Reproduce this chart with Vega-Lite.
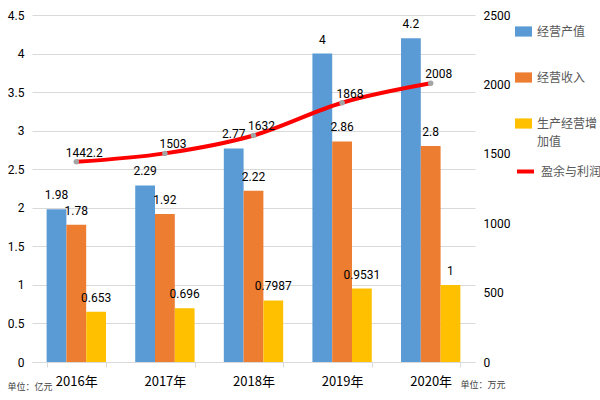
{
  "$schema": "https://vega.github.io/schema/vega-lite/v6.json",
  "width": 443,
  "height": 347,
  "autosize": {"type": "none"},
  "padding": {"left": 32, "top": 15, "right": 125, "bottom": 38},
  "background": "white",
  "config": {
    "view": {"stroke": null},
    "font": "Noto Sans CJK SC",
    "axis": {"labelFont": "Roboto", "labelColor": "#000000", "labelFontSize": 12, "ticks": false, "domain": false, "titleFont": "Noto Sans CJK SC", "titleFontSize": 9, "titleFontWeight": "normal", "titleColor": "#404040"}
  },
  "datasets": {
    "bars": [
      {"year": "2016年", "series": "经营产值", "value": 1.98},
      {"year": "2016年", "series": "经营收入", "value": 1.78},
      {"year": "2016年", "series": "生产经营增加值", "value": 0.653},
      {"year": "2017年", "series": "经营产值", "value": 2.29},
      {"year": "2017年", "series": "经营收入", "value": 1.92},
      {"year": "2017年", "series": "生产经营增加值", "value": 0.696},
      {"year": "2018年", "series": "经营产值", "value": 2.77},
      {"year": "2018年", "series": "经营收入", "value": 2.22},
      {"year": "2018年", "series": "生产经营增加值", "value": 0.7987},
      {"year": "2019年", "series": "经营产值", "value": 4},
      {"year": "2019年", "series": "经营收入", "value": 2.86},
      {"year": "2019年", "series": "生产经营增加值", "value": 0.9531},
      {"year": "2020年", "series": "经营产值", "value": 4.2},
      {"year": "2020年", "series": "经营收入", "value": 2.8},
      {"year": "2020年", "series": "生产经营增加值", "value": 1}
    ],
    "profit": [
      {"year": "2016年", "name": "盈余与利润", "value": 1442.2},
      {"year": "2017年", "name": "盈余与利润", "value": 1503},
      {"year": "2018年", "name": "盈余与利润", "value": 1632},
      {"year": "2019年", "name": "盈余与利润", "value": 1868},
      {"year": "2020年", "name": "盈余与利润", "value": 2008}
    ]
  },
  "encoding": {
    "x": {
      "field": "year", "type": "nominal", "sort": null,
      "scale": {"paddingInner": 0.33, "paddingOuter": 0.165},
      "axis": {
        "title": null, "labelAngle": 0, "labelFont": "Noto Sans CJK SC", "labelFontSize": 13,
        "labelPadding": 8, "domain": true, "domainColor": "#D9D9D9", "ticks": true,
        "tickColor": "#D9D9D9", "tickSize": 5, "tickBand": "extent", "grid": false
      }
    }
  },
  "layer": [
    {
      "data": {"name": "bars"},
      "encoding": {
        "xOffset": {"field": "series", "type": "nominal", "sort": ["经营产值", "经营收入", "生产经营增加值"], "scale": {"paddingInner": 0, "paddingOuter": 0}},
        "y": {
          "field": "value", "type": "quantitative",
          "scale": {"domain": [0, 4.5]},
          "axis": {
            "values": [0, 0.5, 1, 1.5, 2, 2.5, 3, 3.5, 4, 4.5], "format": "~g",
            "labelPadding": 8, "grid": true, "gridColor": "#D9D9D9",
            "title": "单位：亿元", "titleAngle": 0, "titleAlign": "left", "titleBaseline": "alphabetic",
            "titleX": -25, "titleY": 374
          }
        }
      },
      "layer": [
        {
          "mark": {"type": "bar"},
          "encoding": {
            "color": {
              "field": "series", "type": "nominal",
              "scale": {"domain": ["经营产值", "经营收入", "生产经营增加值"], "range": ["#5B9BD5", "#ED7D31", "#FFC000"]},
              "legend": {
                "title": null, "orient": "none", "legendX": 483, "legendY": 8,
                "symbolType": "M-1,-0.6H1V0.6H-1Z", "symbolSize": 289, "symbolStrokeWidth": 0,
                "labelFont": "Noto Sans CJK SC", "labelFontSize": 12, "labelColor": "#595959",
                "labelOffset": 5, "rowPadding": 31, "labelLimit": 200,
                "labelExpr": "datum.label == '生产经营增加值' ? ['生产经营增', '加值'] : datum.label",
                "encode": {"labels": {"update": {"lineHeight": {"value": 18}}}}
              }
            }
          }
        },
        {
          "mark": {"type": "text", "dy": -14, "fontSize": 12, "font": "Roboto", "color": "#000000"},
          "encoding": {"text": {"field": "value", "type": "quantitative"}}
        }
      ]
    },
    {
      "data": {"name": "profit"},
      "encoding": {
        "y": {
          "field": "value", "type": "quantitative",
          "scale": {"domain": [0, 2500]},
          "axis": {
            "orient": "right", "values": [0, 500, 1000, 1500, 2000, 2500], "format": "d",
            "labelPadding": 8, "grid": false,
            "title": "单位：万元", "titleAngle": 0, "titleAlign": "left", "titleBaseline": "alphabetic",
            "titleX": -15, "titleY": 372
          }
        }
      },
      "layer": [
        {
          "mark": {"type": "line", "strokeWidth": 4, "interpolate": "monotone"},
          "encoding": {
            "stroke": {
              "field": "name", "type": "nominal",
              "scale": {"range": ["#FF0000"]},
              "legend": {
                "title": null, "orient": "none", "legendX": 483, "legendY": 146,
                "symbolType": "stroke", "symbolSize": 289, "symbolStrokeWidth": 4,
                "labelFont": "Noto Sans CJK SC", "labelFontSize": 12, "labelColor": "#595959",
                "labelOffset": 5
              }
            }
          }
        },
        {
          "mark": {"type": "point", "filled": true, "size": 30, "color": "#A5A5A5", "opacity": 1}
        },
        {
          "mark": {"type": "text", "dx": 8, "dy": -9, "fontSize": 12, "font": "Roboto", "color": "#000000"},
          "encoding": {"text": {"field": "value", "type": "quantitative"}}
        }
      ]
    }
  ],
  "resolve": {"scale": {"y": "independent"}}
}
